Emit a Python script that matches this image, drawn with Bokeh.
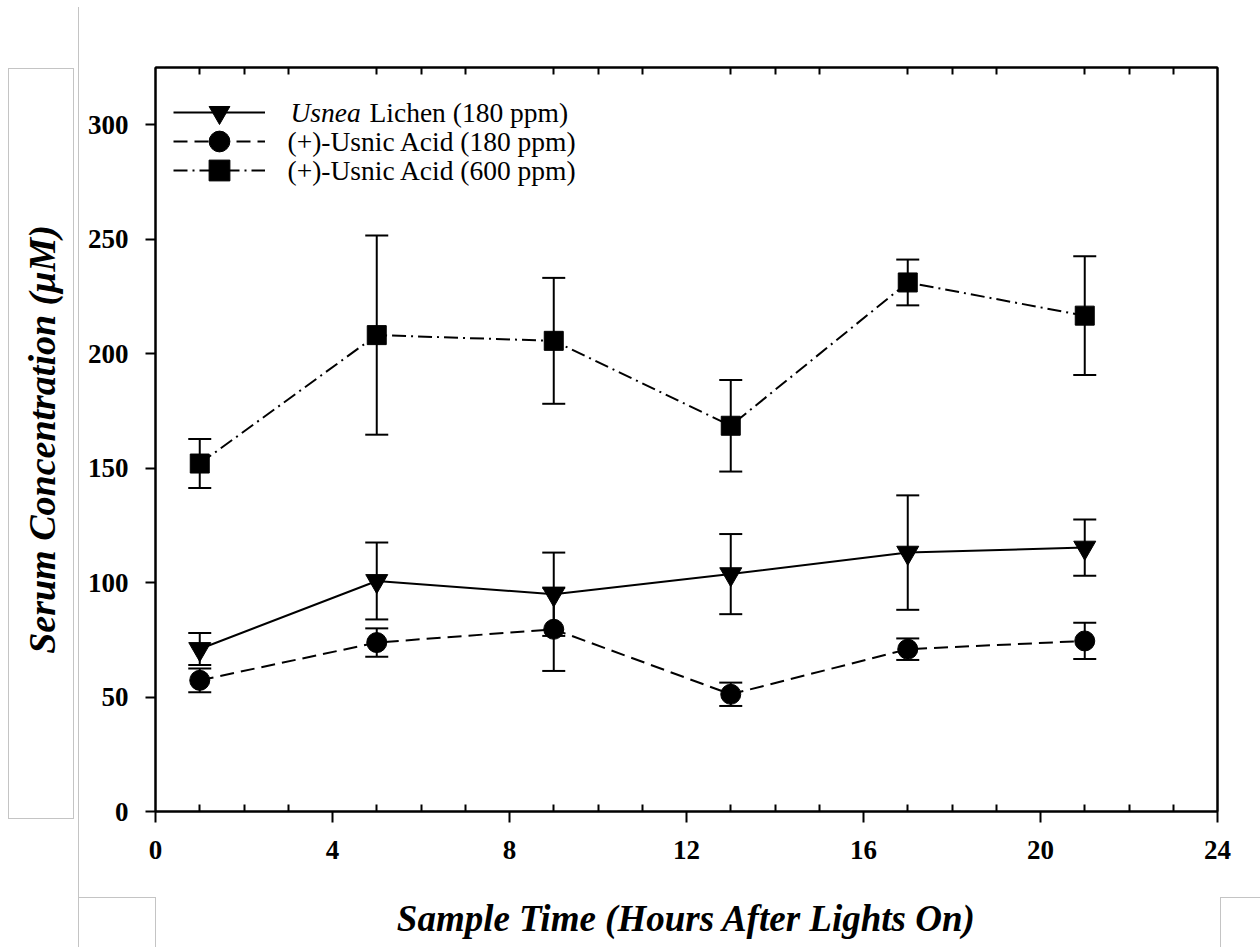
from bokeh.plotting import figure
from bokeh.models import (Range1d, FixedTicker, LinearAxis, Legend, LegendItem,
                          Whisker, ColumnDataSource, TeeHead, Label, InlineStyleSheet)
from bokeh.embed import file_html
from bokeh.resources import INLINE

# ---- data ----
hours = [1, 5, 9, 13, 17, 21]

lichen = [71.0, 100.7, 94.9, 103.7, 113.1, 115.3]
lichen_err = [7.0, 16.8, 18.2, 17.5, 25.0, 12.3]

ua180 = [57.3, 73.8, 79.6, 51.2, 70.9, 74.5]
ua180_err = [5.2, 6.2, 18.2, 5.1, 4.7, 7.9]

ua600 = [152.0, 208.1, 205.6, 168.5, 231.1, 216.6]
ua600_err = [10.7, 43.5, 27.5, 20.0, 10.0, 25.9]

x_ticks = [0, 4, 8, 12, 16, 20, 24]
x_minor = [1, 2, 3, 5, 6, 7, 9, 10, 11, 13, 14, 15, 17, 18, 19, 21, 22, 23]
y_ticks = [0, 50, 100, 150, 200, 250, 300]

FONT = "Liberation Serif"
Y_MAX = 325
FRAME_H = 947 - 67 - 136

p = figure(width=1260, height=947, x_range=Range1d(0, 24), y_range=Range1d(0, Y_MAX),
           output_backend="svg", toolbar_location=None,
           min_border_left=155, min_border_right=43, min_border_top=67, min_border_bottom=136)
p.grid.visible = False
p.outline_line_color = "black"
p.outline_line_width = 2
p.background_fill_color = "white"
p.border_fill_color = "white"

# x axis (bottom)
xa = p.xaxis[0]
xa.ticker = FixedTicker(ticks=x_ticks, minor_ticks=x_minor)
xa.major_tick_out = 11
xa.major_tick_in = 0
xa.minor_tick_in = 7
xa.minor_tick_out = 0
xa.axis_line_width = 2
xa.major_tick_line_width = 2
xa.minor_tick_line_width = 2
xa.major_label_text_font = FONT
xa.major_label_text_font_style = "bold"
xa.major_label_text_font_size = "27px"
xa.major_label_text_color = "black"
xa.major_label_standoff = 18
xa.axis_label = "Sample Time (Hours After Lights On)"
xa.axis_label_text_font = FONT
xa.axis_label_text_font_style = "bold italic"
xa.axis_label_text_font_size = "37px"
xa.axis_label_text_color = "black"
xa.axis_label_standoff = 36

# y axis (left)
ya = p.yaxis[0]
ya.ticker = FixedTicker(ticks=y_ticks)
ya.major_tick_out = 10
ya.major_tick_in = 0
ya.minor_tick_in = 0
ya.minor_tick_out = 0
ya.axis_line_width = 2
ya.major_tick_line_width = 2
ya.major_label_text_font = FONT
ya.major_label_text_font_style = "bold"
ya.major_label_text_font_size = "27px"
ya.major_label_text_color = "black"
ya.major_label_standoff = 17
ya.axis_label = "Serum Concentration (\u03bcM)"
ya.axis_label_text_font = FONT
ya.axis_label_text_font_style = "bold italic"
ya.axis_label_text_font_size = "38px"
ya.axis_label_text_color = "black"
ya.axis_label_standoff = 22

# top axis: inward minor ticks only
ta = LinearAxis(ticker=FixedTicker(ticks=[], minor_ticks=x_minor))
ta.major_tick_out = 0
ta.major_tick_in = 0
ta.minor_tick_in = 7
ta.minor_tick_out = 0
ta.minor_tick_line_width = 2
ta.axis_line_width = 2
ta.major_label_standoff = 0
p.add_layout(ta, "above")

# right axis: line only
ra = LinearAxis(ticker=FixedTicker(ticks=[]))
ra.major_tick_out = 0
ra.major_tick_in = 0
ra.minor_tick_in = 0
ra.minor_tick_out = 0
ra.axis_line_width = 2
ra.major_label_standoff = 0
p.add_layout(ra, "right")

series = [
    (lichen, lichen_err, "inverted_triangle", 22, "solid"),
    (ua180, ua180_err, "circle", 20, "14 7"),
    (ua600, ua600_err, "square", 19, "14 5 2 5"),
]

# legend rows: distance of each row's centre below the frame top (px)
row_centres = [44.7, 74.0, 103.0]
GLYPH_H = 52

for (vals, errs, marker, size, dash), rc in zip(series, row_centres):
    src = ColumnDataSource(dict(
        x=hours, y=vals,
        upper=[v + e for v, e in zip(vals, errs)],
        lower=[v - e for v, e in zip(vals, errs)],
    ))
    w = Whisker(source=src, base="x", upper="upper", lower="lower",
                line_width=2, line_color="black",
                upper_head=TeeHead(size=23, line_width=2, line_color="black"),
                lower_head=TeeHead(size=23, line_width=2, line_color="black"))
    p.add_layout(w)
    ln = p.line("x", "y", source=src, line_width=2, line_color="black", line_dash=dash)
    sc = p.scatter("x", "y", source=src, marker=marker, size=size,
                   fill_color="black", line_color="black")
    # one single-row legend per series (line + marker sample)
    lg = Legend(items=[LegendItem(label="", renderers=[ln, sc])],
                location=(18, FRAME_H - rc - GLYPH_H / 2),
                glyph_width=92, glyph_height=GLYPH_H, label_height=GLYPH_H,
                label_width=0, spacing=0, padding=0, margin=0, label_standoff=0,
                border_line_color=None, background_fill_alpha=0)
    p.add_layout(lg)

# legend texts drawn as labels so that "Usnea" can be italic
legend_texts = [
    ("Usnea", "italic", 135, -row_centres[0]),
    ("Lichen (180 ppm)", "normal", 214, -row_centres[0]),
    ("(+)-Usnic Acid (180 ppm)", "normal", 132, -row_centres[1]),
    ("(+)-Usnic Acid (600 ppm)", "normal", 132, -row_centres[2]),
]
for txt, style, dx, dy in legend_texts:
    p.add_layout(Label(x=0, y=Y_MAX, x_offset=dx, y_offset=dy, text=txt,
                       text_font=FONT, text_font_style=style, text_font_size="27.5px",
                       text_color="black", text_baseline="middle", text_align="left"))

# light grey frame remnants of the scanned page
g = "linear-gradient(#c4c4c4,#c4c4c4)"
lines = [  # (left, top, width, height) in px
    (8, 68, 66, 1), (8, 818, 66, 1), (8, 68, 1, 751), (73, 68, 1, 751),
    (78, 7, 1, 940),
    (78, 897, 78, 1), (155, 897, 1, 50),
    (1220, 897, 40, 1), (1220, 897, 1, 50),
]
css = (":host::after { content: ''; position: absolute; left: 0; top: 0; "
       "width: 1260px; height: 947px; pointer-events: none; z-index: 10; "
       "background-repeat: no-repeat; "
       "background-image: " + ", ".join([g] * len(lines)) + "; "
       "background-position: " + ", ".join(f"{l}px {t}px" for l, t, w, h in lines) + "; "
       "background-size: " + ", ".join(f"{w}px {h}px" for l, t, w, h in lines) + "; }")
p.stylesheets = [InlineStyleSheet(css=css)]

open("out.html", "w").write(file_html(p, INLINE))
